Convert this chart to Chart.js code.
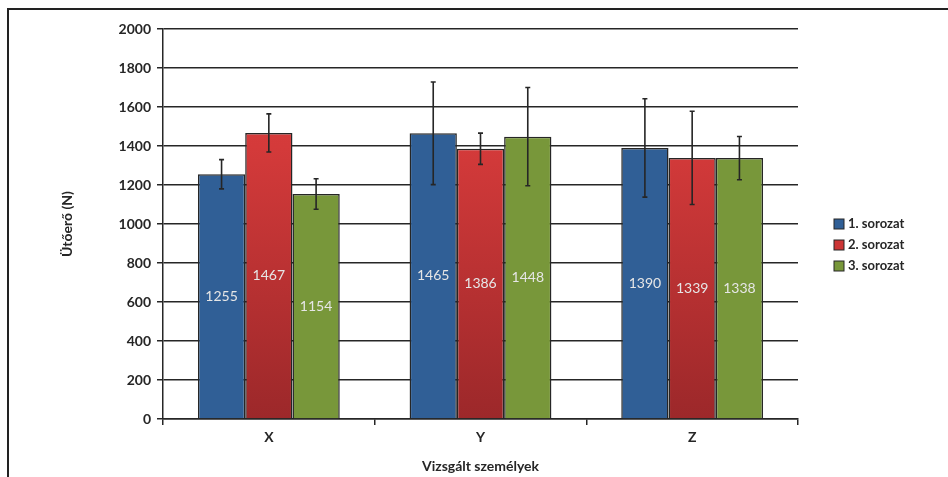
<!DOCTYPE html>
<html>
<head>
<meta charset="utf-8">
<script src="https://cdn.jsdelivr.net/npm/chart.js@4"></script>
<style>
  html, body { margin: 0; padding: 0; background: #fff; }
  #wrap { width: 948px; height: 477px; position: relative; }
</style>
</head>
<body>
<div id="wrap"><canvas id="chart" width="948" height="477"></canvas></div>
<script>
// categories and series
const categories = ['X', 'Y', 'Z'];
const seriesNames = ['1. sorozat', '2. sorozat', '3. sorozat'];
const series1 = [1255, 1465, 1390];
const series2 = [1467, 1386, 1339];
const series3 = [1154, 1448, 1338];
// standard deviations (error bars)
const err1 = [75, 263, 252];
const err2 = [98, 80, 239];
const err3 = [78, 252, 111];

const FONT = 'Lato, "Open Sans", sans-serif';
const INK = '#262626';

function redGradient(ctx) {
    const area = ctx.chart.chartArea;
    if (!area) return '#c83434';
    const g = ctx.chart.ctx.createLinearGradient(0, area.top, 0, area.bottom);
    g.addColorStop(0, '#dc4040');
    g.addColorStop(0.3, '#d43a3a');
    g.addColorStop(1, '#9c282a');
    return g;
}

const colors = ['#305f96', redGradient, '#78973a'];
const swatch = ['#305f96', '#cc3535', '#78973a'];
const errors = [err1, err2, err3];

// error bars drawn from the y scale
const errorBars = {
    id: 'errorBars',
    afterDatasetsDraw(chart) {
        const c = chart.ctx;
        const y = chart.scales.y;
        c.save();
        c.strokeStyle = INK;
        c.lineWidth = 1.6;
        chart.data.datasets.forEach((ds, i) => {
            const meta = chart.getDatasetMeta(i);
            meta.data.forEach((bar, j) => {
                const v = ds.data[j], e = errors[i][j];
                const top = y.getPixelForValue(v + e);
                const bot = y.getPixelForValue(v - e);
                c.beginPath();
                c.moveTo(bar.x, top); c.lineTo(bar.x, bot);
                c.moveTo(bar.x - 2.5, top); c.lineTo(bar.x + 2.5, top);
                c.moveTo(bar.x - 2.5, bot); c.lineTo(bar.x + 2.5, bot);
                c.stroke();
            });
        });
        c.restore();
    }
};

// value labels in the middle of each bar
const valueLabels = {
    id: 'valueLabels',
    afterDatasetsDraw(chart) {
        const c = chart.ctx;
        c.save();
        c.fillStyle = '#e6e6e6';
        c.font = '14px ' + FONT;
        c.textAlign = 'center';
        c.textBaseline = 'middle';
        chart.data.datasets.forEach((ds, i) => {
            chart.getDatasetMeta(i).data.forEach((bar, j) => {
                c.fillText(String(ds.data[j]), bar.x, (bar.y + bar.base) / 2);
            });
        });
        c.restore();
    }
};

// legend + outer frame
const sideLegend = {
    id: 'sideLegend',
    afterDraw(chart) {
        const c = chart.ctx;
        c.save();
        c.font = 'bold 13px ' + FONT;
        c.textBaseline = 'middle';
        seriesNames.forEach((name, i) => {
            const yy = 224 + i * 21;
            c.fillStyle = swatch[i];
            c.fillRect(834, yy - 5, 10, 10);
            c.strokeStyle = INK;
            c.lineWidth = 1;
            c.strokeRect(834, yy - 5, 10, 10);
            c.fillStyle = INK;
            c.fillText(name, 848, yy);
        });
        c.strokeStyle = '#222';
        c.lineWidth = 2;
        c.beginPath();
        c.moveTo(8, 477); c.lineTo(8, 9); c.lineTo(948, 9);
        c.stroke();
        c.restore();
    }
};

const datasets = [series1, series2, series3].map((d, i) => ({
    label: seriesNames[i],
    data: d,
    backgroundColor: colors[i],
    borderColor: INK,
    borderWidth: 1.5,
    borderSkipped: 'bottom',
    categoryPercentage: 0.67,
    barPercentage: 1.0
}));

new Chart(document.getElementById('chart'), {
    type: 'bar',
    data: { labels: categories, datasets },
    options: {
        responsive: false,
        animation: false,
        layout: { padding: { left: 55, top: 29, right: 150, bottom: 0 } },
        plugins: {
            legend: { display: false },
            tooltip: { enabled: false }
        },
        scales: {
            x: {
                grid: { drawOnChartArea: false, offset: true, tickLength: 6, color: INK, lineWidth: 1.5 },
                border: { display: true, color: INK, width: 1.5 },
                ticks: { color: INK, font: { family: FONT, weight: 700, size: 14 }, padding: 4 },
                title: { display: true, text: 'Vizsgált személyek', color: INK,
                         font: { family: FONT, weight: 700, size: 14 }, padding: { top: 7, bottom: 2 } },
                afterFit(scale) { scale.height = 58; }
            },
            y: {
                min: 0, max: 2000,
                ticks: { stepSize: 200, color: INK, font: { family: FONT, weight: 700, size: 14 }, padding: 6,
                         callback: v => String(v) },
                grid: { color: INK, lineWidth: 1.5, tickLength: 6 },
                border: { display: true, color: INK, width: 1.5 },
                title: { display: true, text: 'Ütőerő (N)', color: INK,
                         font: { family: FONT, weight: 700, size: 14 }, padding: 4 },
                afterFit(scale) { scale.width = 108; }
            }
        }
    },
    plugins: [errorBars, valueLabels, sideLegend]
});
</script>
</body>
</html>
